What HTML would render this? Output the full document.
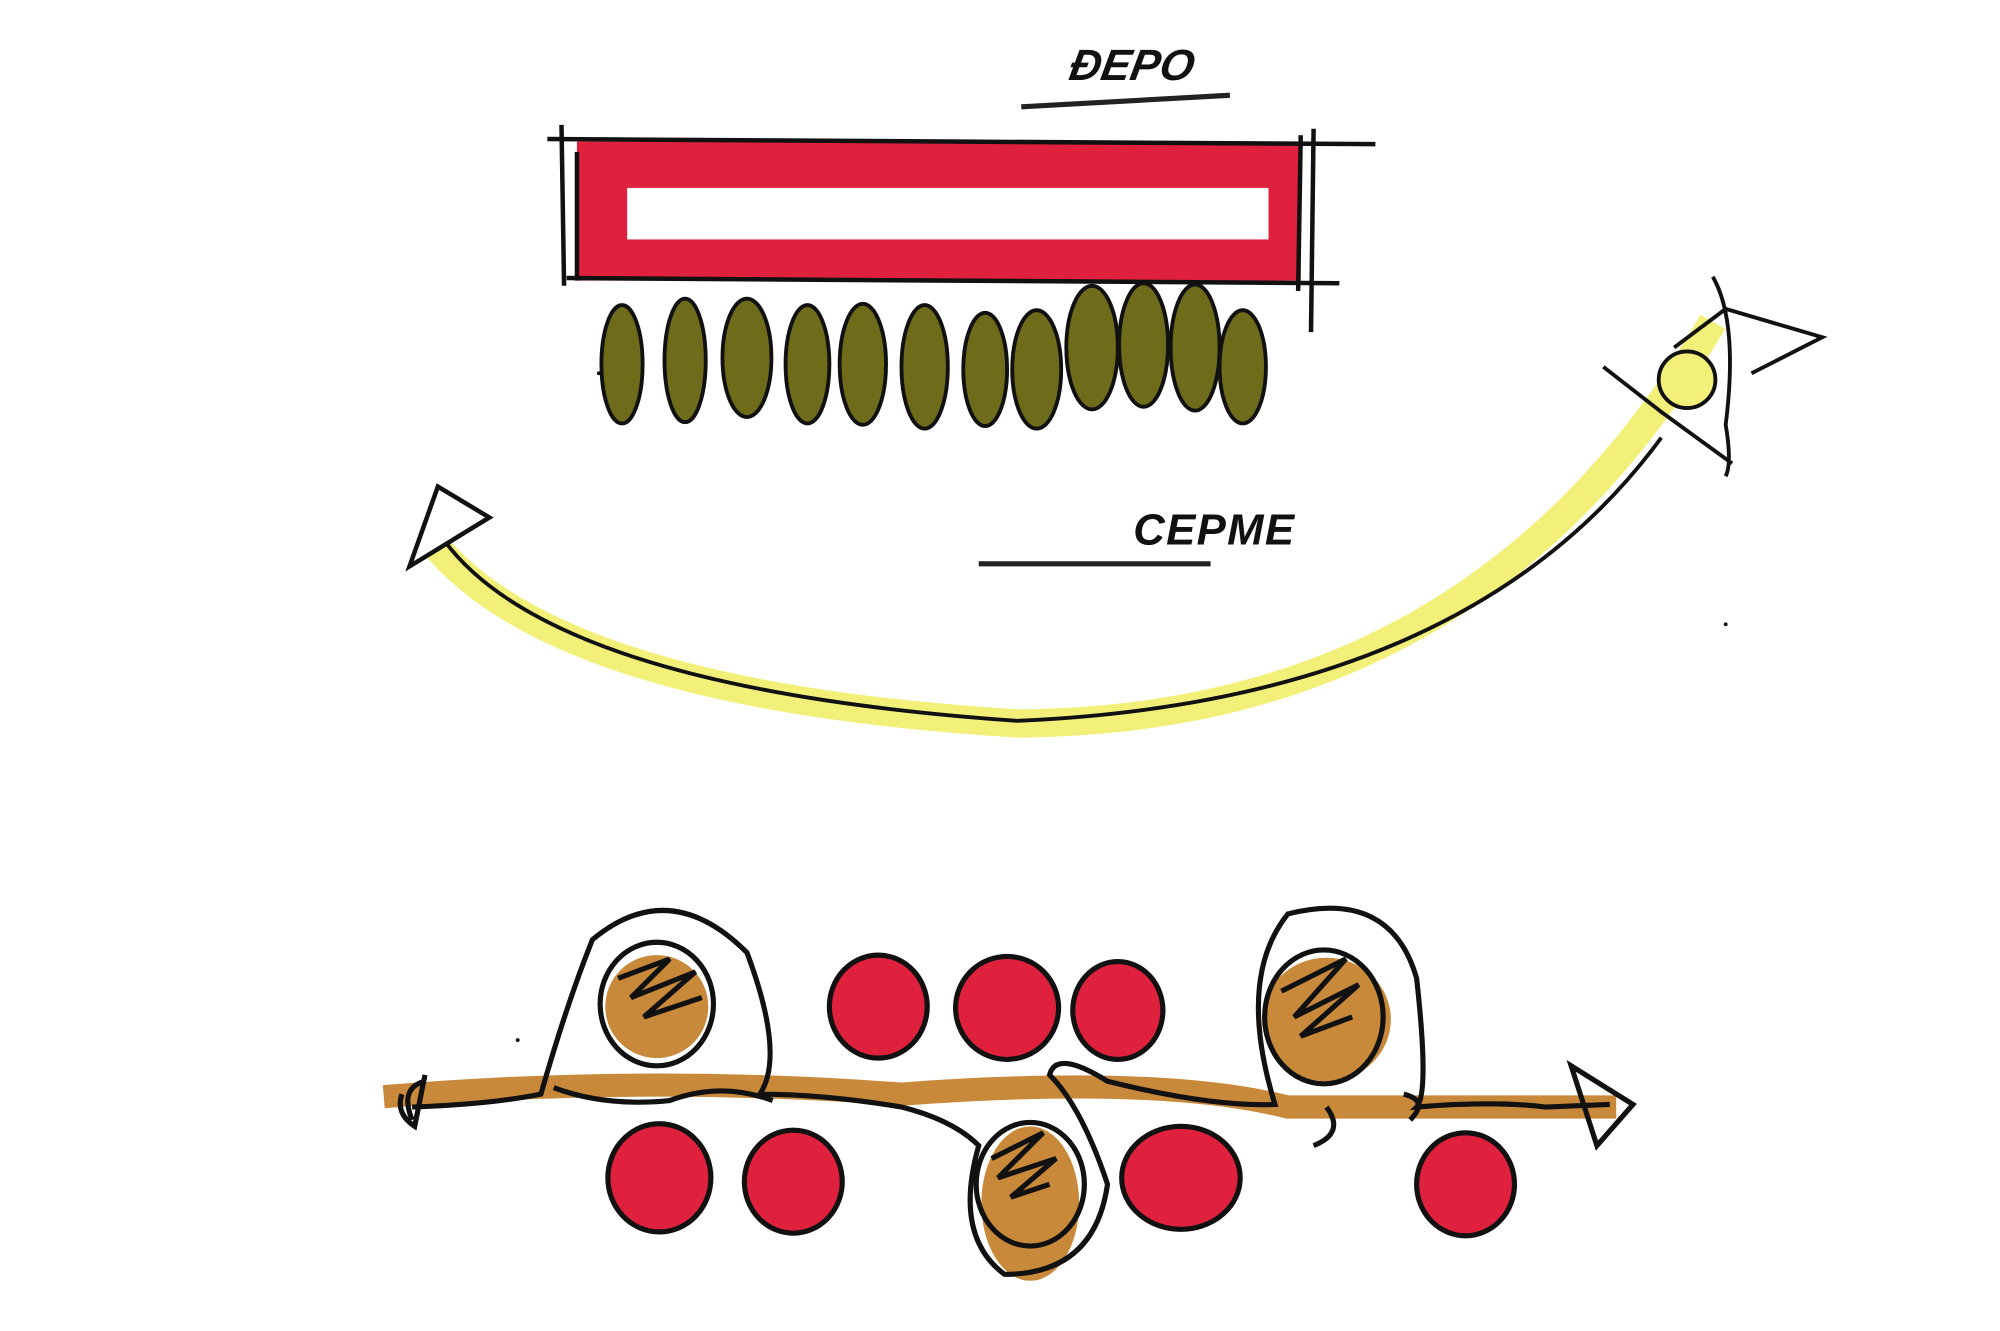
<!DOCTYPE html>
<html><head><meta charset="utf-8"><style>
html,body{margin:0;padding:0;background:#fff}
svg{display:block}
</style></head><body>
<svg width="2000" height="1331" viewBox="0 0 1553 1034" preserveAspectRatio="none" xmlns="http://www.w3.org/2000/svg">
<rect width="1553" height="1034" fill="#fff"/>
<!-- labels -->
<text x="830" y="62" font-family="Liberation Sans, sans-serif" font-style="italic" font-weight="bold" font-size="34" fill="#111" transform="skewX(-10)" dx="10">ÐEPO</text>
<line x1="793" y1="83" x2="955" y2="74" stroke="#222" stroke-width="4"/>
<text x="880" y="423" font-family="Liberation Sans, sans-serif" font-style="italic" font-weight="bold" font-size="34" fill="#111" letter-spacing="1">CEPME</text>
<line x1="760" y1="438" x2="940" y2="438" stroke="#222" stroke-width="4"/>
<!-- red bar -->
<rect x="448" y="110" width="562" height="108" fill="#e0213d"/>
<rect x="487" y="146" width="498" height="40" fill="#fff"/>
<g stroke="#111" stroke-width="3.5" fill="none">
<line x1="425" y1="108" x2="1068" y2="112"/>
<line x1="440" y1="216" x2="1040" y2="220"/>
<line x1="436" y1="97" x2="438" y2="222"/>
<line x1="448" y1="118" x2="448" y2="218"/>
<line x1="1010" y1="105" x2="1008" y2="226"/>
<line x1="1020" y1="100" x2="1018" y2="258"/>
</g>
<!-- green ellipses -->
<g fill="#6e6c1a" stroke="#111" stroke-width="3">
<ellipse cx="483" cy="283" rx="16" ry="46"/>
<ellipse cx="532" cy="280" rx="16" ry="48"/>
<ellipse cx="580" cy="278" rx="19" ry="46"/>
<ellipse cx="627" cy="283" rx="17" ry="46"/>
<ellipse cx="670" cy="283" rx="18" ry="47"/>
<ellipse cx="718" cy="285" rx="18" ry="48"/>
<ellipse cx="765" cy="287" rx="17" ry="44"/>
<ellipse cx="805" cy="287" rx="19" ry="46"/>
<ellipse cx="848" cy="270" rx="20" ry="48"/>
<ellipse cx="888" cy="268" rx="19" ry="48"/>
<ellipse cx="928" cy="270" rx="19" ry="49"/>
<ellipse cx="965" cy="285" rx="18" ry="44"/>
</g>
<!-- yellow arc -->
<path d="M335,420 Q430,540 790,562 Q1150,560 1330,250" stroke="#f3f07a" stroke-width="22" fill="none"/>
<path d="M345,420 Q430,535 790,560 Q1140,545 1290,340" stroke="#111" stroke-width="3" fill="none"/>
<path d="M340,378 L380,402 L318,440 Z" fill="#fff" stroke="#111" stroke-width="3.5"/>
<circle cx="1310" cy="295" r="22" fill="#f3f07a" stroke="#111" stroke-width="3"/>
<g stroke="#111" stroke-width="3" fill="none">
<path d="M1245,285 L1290,320 L1345,360"/>
<path d="M1300,270 L1340,240 L1415,262 L1360,290"/>
<path d="M1330,215 Q1350,250 1340,330 Q1345,360 1340,370"/>
</g>
<!-- bottom -->
<path d="M298,852 Q500,835 700,850 Q900,835 1000,860 Q1150,860 1255,860" stroke="#c9893a" stroke-width="18" fill="none"/>
<g fill="#c9893a">
<ellipse cx="510" cy="782" rx="40" ry="40"/>
<ellipse cx="1030" cy="792" rx="50" ry="48"/>
<ellipse cx="800" cy="935" rx="38" ry="60"/>
</g>
<g fill="#e0213d" stroke="#111" stroke-width="4">
<ellipse cx="682" cy="782" rx="38" ry="40"/>
<ellipse cx="782" cy="783" rx="40" ry="40"/>
<ellipse cx="868" cy="785" rx="35" ry="38"/>
<ellipse cx="512" cy="915" rx="40" ry="42"/>
<ellipse cx="616" cy="918" rx="38" ry="40"/>
<ellipse cx="917" cy="915" rx="46" ry="40"/>
<ellipse cx="1138" cy="920" rx="38" ry="40"/>
</g>
<g stroke="#111" stroke-width="4" fill="none">
<ellipse cx="510" cy="780" rx="44" ry="48"/>
<ellipse cx="1028" cy="790" rx="46" ry="52"/>
<ellipse cx="800" cy="920" rx="42" ry="48"/>
<path d="M480,760 l40,-15 l-30,30 l50,-20 l-40,35 l45,-15" />
<path d="M995,770 l50,-25 l-40,45 l50,-25 l-45,40 l40,-15"/>
<path d="M770,900 l40,-20 l-35,35 l45,-15 l-35,30 l30,-10"/>
<path d="M320,860 Q380,858 420,850 Q440,780 460,730 Q520,680 580,740 Q610,820 590,850 Q640,850 700,860 Q740,870 760,890 Q740,960 780,990 Q850,990 860,920 Q840,860 815,835 Q820,815 860,840 Q940,860 990,858 Q960,760 1000,710 Q1080,690 1100,760 Q1110,850 1100,860 Q1160,855 1200,860 L1250,858"/>
<path d="M430,845 Q470,860 520,855 Q560,840 600,855"/>
<path d="M1030,860 Q1045,880 1020,890 M1095,870 Q1110,855 1090,850"/>
<path d="M320,870 q-10,-25 10,-30 M330,835 l-8,40 q-15,-10 -10,-25"/>
<path d="M1220,828 L1268,858 L1240,890 Z"/>
</g>
<circle cx="402" cy="808" r="1.5" fill="#111"/>
<circle cx="1340" cy="485" r="1.5" fill="#111"/>
<circle cx="465" cy="290" r="1.5" fill="#111"/>
</svg>
</body></html>
